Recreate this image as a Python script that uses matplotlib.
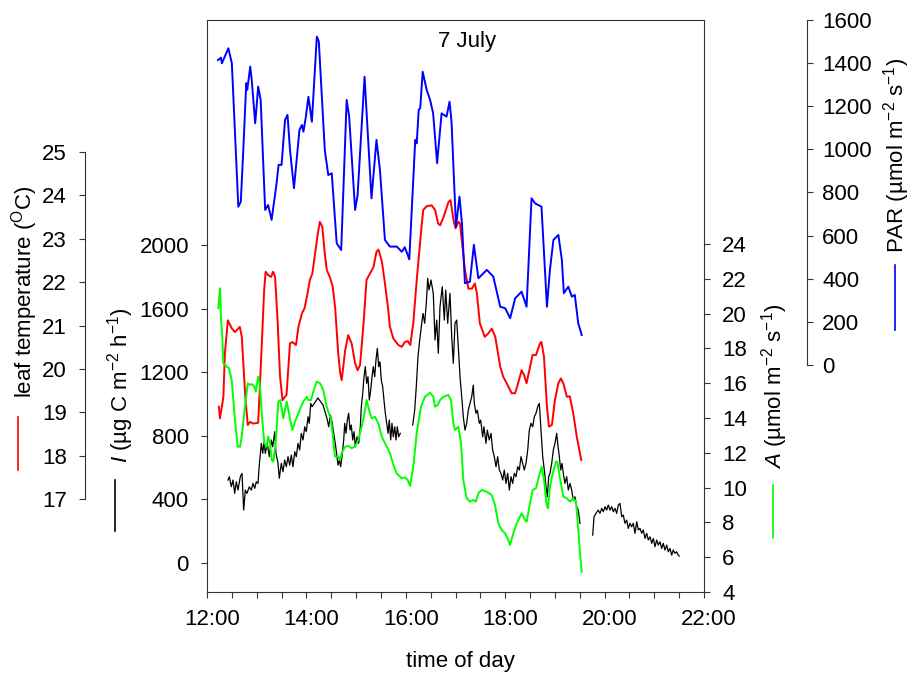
import numpy as np
import matplotlib
matplotlib.use('Agg')
import matplotlib.pyplot as plt
from matplotlib.ticker import MultipleLocator
from matplotlib.lines import Line2D
from matplotlib.transforms import ScaledTranslation

plt.rcParams['font.family'] = 'Liberation Sans'
plt.rcParams['mathtext.fontset'] = 'custom'
plt.rcParams['mathtext.rm'] = 'Liberation Sans'
plt.rcParams['mathtext.it'] = 'Liberation Sans:italic'
plt.rcParams['font.size'] = 16

# PAR (umol m-2 s-1) vs time of day (decimal hours)
par_t = [12.22, 12.28, 12.30, 12.43, 12.50, 12.63, 12.68, 12.73, 12.79, 12.81,
         12.87, 12.90, 12.97, 13.03, 13.08, 13.17, 13.23, 13.30, 13.40, 13.44,
         13.50, 13.57, 13.62, 13.67, 13.75, 13.86, 13.91, 13.94, 13.99, 14.04,
         14.11, 14.21, 14.25, 14.37, 14.44, 14.51, 14.61, 14.70, 14.81, 14.86,
         14.98, 15.03, 15.17, 15.31, 15.41, 15.48, 15.58, 15.68, 15.82, 15.92,
         15.98, 16.07, 16.19, 16.22, 16.26, 16.29, 16.34, 16.42, 16.49, 16.55,
         16.63, 16.72, 16.82, 16.88, 16.92, 17.01, 17.08, 17.13, 17.19, 17.29,
         17.37, 17.46, 17.63, 17.76, 17.90, 18.00, 18.10, 18.20, 18.33, 18.43,
         18.53, 18.60, 18.73, 18.84, 18.90, 18.97, 19.07, 19.14, 19.18, 19.27,
         19.34, 19.40, 19.47, 19.54]
par = [1414, 1425, 1399, 1469, 1399, 734, 757, 997, 1307, 1276,
       1384, 1322, 1121, 1291, 1229, 719, 742, 673, 843, 928,
       928, 1136, 1160, 997, 820, 1090, 1113, 1082, 1152, 1244,
       1128, 1523, 1500, 997, 881, 889, 564, 533, 1229, 1152,
       719, 788, 1337, 773, 1044, 904, 580, 549, 549, 525,
       546, 490, 1044, 1028, 1183, 1191, 1360, 1276, 1229, 1167,
       936, 1167, 1152, 1221, 1128, 641, 781, 657, 379, 386,
       557, 402, 441, 410, 270, 263, 217, 309, 340, 270,
       773, 750, 734, 270, 441, 580, 603, 487, 333, 363,
       317, 325, 193, 139]

# leaf temperature (degC)
temp_t = [12.24, 12.26, 12.30, 12.33, 12.36, 12.42, 12.50, 12.56, 12.63, 12.66,
          12.70, 12.77, 12.82, 12.87, 12.93, 13.03, 13.10, 13.15, 13.18, 13.23,
          13.29, 13.33, 13.37, 13.42, 13.47, 13.52, 13.57, 13.60, 13.67, 13.72,
          13.79, 13.84, 13.91, 13.96, 14.01, 14.07, 14.12, 14.17, 14.23, 14.27,
          14.32, 14.37, 14.41, 14.48, 14.53, 14.58, 14.64, 14.68, 14.71, 14.78,
          14.84, 14.91, 14.98, 15.03, 15.08, 15.15, 15.21, 15.28, 15.35, 15.41,
          15.45, 15.52, 15.58, 15.64, 15.68, 15.75, 15.85, 15.92, 15.98, 16.04,
          16.09, 16.15, 16.22, 16.31, 16.35, 16.42, 16.52, 16.59, 16.65, 16.69,
          16.76, 16.86, 16.90, 16.96, 17.00, 17.06, 17.09, 17.19, 17.26, 17.33,
          17.39, 17.43, 17.49, 17.59, 17.66, 17.73, 17.80, 17.90, 17.96, 18.03,
          18.13, 18.20, 18.26, 18.33, 18.38, 18.43, 18.50, 18.55, 18.62, 18.70,
          18.73, 18.78, 18.84, 18.88, 18.94, 19.00, 19.07, 19.12, 19.17, 19.24,
          19.30, 19.37, 19.44, 19.53]
temp = [19.13, 18.86, 19.13, 19.36, 20.36, 21.12, 20.93, 20.85, 20.93, 20.97,
        20.74, 19.36, 18.71, 18.78, 18.74, 18.76, 20.51, 21.82, 22.24, 22.16,
        22.12, 22.24, 22.12, 21.12, 19.82, 19.28, 19.36, 19.40, 20.59, 20.62,
        20.55, 20.97, 21.28, 21.39, 21.66, 22.05, 22.20, 22.62, 23.12, 23.39,
        23.27, 22.66, 22.28, 22.09, 21.89, 21.39, 20.36, 19.90, 19.74, 20.43,
        20.78, 20.59, 20.13, 19.97, 20.09, 21.05, 22.05, 22.20, 22.35, 22.70,
        22.75, 22.47, 21.97, 21.43, 20.97, 20.70, 20.55, 20.51, 20.62, 20.64,
        20.55, 21.05, 22.05, 23.20, 23.66, 23.75, 23.77, 23.66, 23.35, 23.31,
        23.50, 23.85, 23.89, 23.43, 23.24, 23.39, 23.35, 22.28, 21.85, 21.85,
        21.97, 21.74, 21.05, 20.74, 20.82, 20.93, 20.74, 20.05, 19.82, 19.67,
        19.44, 19.44, 19.67, 19.97, 19.86, 19.67, 20.05, 20.32, 20.32, 20.59,
        20.62, 20.28, 19.13, 18.67, 18.71, 19.28, 19.67, 19.78, 19.67, 19.36,
        19.37, 18.97, 18.44, 17.90]

# net assimilation A (umol m-2 s-1)
a_t = [12.227, 12.262, 12.282, 12.308, 12.328, 12.362, 12.396, 12.443, 12.497, 12.563,
       12.618, 12.664, 12.698, 12.750, 12.819, 12.865, 12.899, 12.952, 12.980, 13.032,
       13.066, 13.101, 13.153, 13.201, 13.233, 13.268, 13.302, 13.334, 13.382, 13.435,
       13.475, 13.535, 13.604, 13.650, 13.716, 13.771, 13.837, 13.891, 13.938, 14.006,
       14.038, 14.093, 14.139, 14.207, 14.274, 14.340, 14.408, 14.495, 14.541, 14.575,
       14.642, 14.676, 14.710, 14.777, 14.843, 14.911, 14.978, 15.044, 15.145, 15.213,
       15.260, 15.314, 15.380, 15.447, 15.515, 15.616, 15.682, 15.749, 15.817, 15.918,
       15.984, 16.038, 16.085, 16.151, 16.219, 16.306, 16.386, 16.487, 16.553, 16.588,
       16.642, 16.688, 16.755, 16.855, 16.909, 16.956, 16.990, 17.024, 17.056, 17.111,
       17.157, 17.225, 17.292, 17.358, 17.412, 17.459, 17.527, 17.628, 17.728, 17.795,
       17.861, 17.930, 17.996, 18.062, 18.097, 18.163, 18.231, 18.332, 18.398, 18.433,
       18.499, 18.553, 18.620, 18.686, 18.734, 18.781, 18.835, 18.861, 18.901, 18.956,
       19.022, 19.048, 19.103, 19.169, 19.237, 19.304, 19.370, 19.425, 19.471, 19.505,
       19.539]
a_val = [20.30, 21.45, 19.63, 18.67, 17.14, 17.05, 16.95, 16.86, 16.18, 13.89,
         12.35, 12.35, 12.93, 14.27, 15.99, 15.90, 15.95, 15.80, 15.51, 16.37,
         15.80, 14.27, 12.55, 12.35, 12.93, 12.55, 11.59, 11.49, 12.55, 14.94,
         15.03, 13.98, 14.94, 14.27, 13.31, 13.79, 14.27, 14.65, 14.94, 15.22,
         15.03, 15.03, 15.51, 16.09, 15.99, 15.61, 14.65, 13.89, 12.74, 11.78,
         11.78, 11.59, 11.97, 12.35, 12.39, 12.26, 12.35, 12.74, 13.89, 15.03,
         14.46, 13.98, 14.07, 13.70, 12.93, 12.35, 11.97, 11.30, 10.82, 10.53,
         10.59, 10.44, 10.09, 11.20, 13.12, 14.65, 15.22, 15.45, 15.22, 14.65,
         14.75, 15.03, 15.22, 15.32, 15.03, 13.70, 13.31, 13.41, 13.50, 12.55,
         10.44, 9.39, 9.19, 9.29, 9.19, 9.67, 9.86, 9.76, 9.57, 9.00,
         7.95, 7.56, 7.37, 6.99, 6.70, 7.37, 7.95, 8.52, 8.14, 8.04,
         9.10, 9.86, 9.96, 10.72, 11.20, 10.44, 9.00, 8.81, 10.05, 10.82,
         11.49, 11.49, 10.53, 9.48, 9.39, 9.19, 9.39, 9.19, 7.56, 6.22,
         5.17]

# isoprene emission I (ug C m-2 h-1), three logging periods
i1_t = [12.423, 12.449, 12.489, 12.523, 12.557, 12.590, 12.624, 12.670, 12.704, 12.738,
        12.771, 12.805, 12.851, 12.891, 12.926, 12.960, 12.992, 13.026, 13.052, 13.093,
        13.121, 13.147, 13.173, 13.213, 13.254, 13.294, 13.322, 13.362, 13.388, 13.429,
        13.455, 13.495, 13.529, 13.563, 13.596, 13.630, 13.664, 13.696, 13.730, 13.765,
        13.797, 13.831, 13.865, 13.897, 13.932, 13.966, 13.998, 14.032, 14.058, 14.087,
        14.113, 14.233, 14.334, 14.414, 14.449, 14.481, 14.515, 14.549, 14.581, 14.616,
        14.636, 14.662, 14.690, 14.716, 14.751, 14.771, 14.797, 14.823, 14.851, 14.877,
        14.903, 14.932, 14.958, 14.984, 15.018, 15.052, 15.085, 15.105, 15.133, 15.159,
        15.185, 15.213, 15.239, 15.266, 15.294, 15.320, 15.346, 15.374, 15.400, 15.427,
        15.455, 15.481, 15.507, 15.535, 15.561, 15.588, 15.616, 15.642, 15.668, 15.696,
        15.722, 15.748, 15.777, 15.803, 15.829, 15.857, 15.889]
i1 = [522, 543, 480, 522, 438, 511, 459, 543, 564, 333,
      459, 438, 480, 459, 501, 470, 511, 501, 616, 753,
      690, 763, 690, 753, 669, 774, 731, 826, 690, 627,
      533, 627, 574, 648, 606, 669, 616, 679, 606, 700,
      669, 753, 711, 816, 774, 857, 826, 920, 879, 1004,
      983, 1038, 994, 910, 857, 931, 889, 816, 753, 669,
      616, 648, 606, 669, 774, 879, 816, 899, 942, 836,
      868, 774, 826, 731, 794, 753, 857, 983, 1067, 1172,
      1235, 1130, 1172, 1025, 1088, 1172, 1235, 1172, 1277, 1350,
      1235, 1266, 1151, 1109, 1025, 942, 879, 816, 899, 774,
      879, 794, 857, 774, 857, 794, 816]

i2_t = [16.139, 16.179, 16.211, 16.245, 16.280, 16.312, 16.346, 16.380, 16.412, 16.441,
        16.467, 16.507, 16.553, 16.588, 16.622, 16.654, 16.688, 16.734, 16.775, 16.803,
        16.843, 16.889, 16.924, 16.956, 16.990, 17.024, 17.056, 17.091, 17.125, 17.157,
        17.191, 17.225, 17.258, 17.292, 17.326, 17.358, 17.378, 17.412, 17.439, 17.479,
        17.507, 17.547, 17.573, 17.614, 17.640, 17.680, 17.714, 17.748, 17.781, 17.815,
        17.849, 17.881, 17.915, 17.950, 17.982, 18.016, 18.050, 18.083, 18.117, 18.151,
        18.183, 18.217, 18.252, 18.284, 18.318, 18.352, 18.384, 18.419, 18.453, 18.485,
        18.519, 18.553, 18.586, 18.620, 18.654, 18.686, 18.700, 18.720, 18.755, 18.787,
        18.821, 18.847, 18.875, 18.901, 18.936, 18.968, 19.002, 19.036, 19.056, 19.089,
        19.117, 19.143, 19.169, 19.203, 19.237, 19.270, 19.304, 19.338, 19.370, 19.404,
        19.439, 19.471, 19.505]
i2 = [868, 962, 1109, 1297, 1403, 1486, 1570, 1508, 1633, 1791,
      1717, 1780, 1696, 1403, 1528, 1319, 1612, 1738, 1528, 1717,
      1508, 1696, 1423, 1256, 1508, 1528, 1360, 1172, 1046, 920,
      836, 879, 962, 1004, 1046, 1119, 1004, 942, 962, 879,
      899, 794, 857, 753, 836, 774, 816, 711, 669, 606,
      669, 585, 564, 522, 585, 501, 564, 459, 543, 501,
      564, 543, 606, 585, 669, 627, 585, 627, 711, 836,
      879, 857, 920, 942, 983, 1004, 942, 836, 669, 585,
      480, 417, 543, 564, 627, 711, 753, 816, 753, 669,
      585, 627, 564, 501, 543, 459, 501, 459, 396, 417,
      354, 333, 250]

i3_t = [19.761, 19.787, 19.827, 19.873, 19.907, 19.942, 19.974, 20.008, 20.042, 20.074,
        20.109, 20.143, 20.175, 20.209, 20.243, 20.276, 20.310, 20.344, 20.376, 20.410,
        20.445, 20.477, 20.511, 20.545, 20.577, 20.612, 20.646, 20.678, 20.712, 20.746,
        20.779, 20.813, 20.847, 20.879, 20.913, 20.948, 20.980, 21.014, 21.048, 21.080,
        21.115, 21.149, 21.181, 21.215, 21.249, 21.282, 21.316, 21.350, 21.382, 21.416,
        21.449, 21.481, 21.501]
i3 = [176, 291, 313, 333, 313, 344, 323, 354, 333, 365,
      333, 354, 323, 344, 313, 365, 375, 291, 302, 250,
      270, 218, 250, 228, 250, 187, 260, 208, 218, 187,
      208, 155, 187, 145, 165, 124, 155, 103, 145, 113,
      134, 92, 124, 82, 113, 71, 92, 50, 82, 61,
      71, 50, 44]

x_ticks = [12, 14, 16, 18, 20, 22]
x_ticklabels = ['12:00', '14:00', '16:00', '18:00', '20:00', '22:00']
i_ticks = [0, 400, 800, 1200, 1600, 2000]
temp_ticks = [17, 18, 19, 20, 21, 22, 23, 24, 25]
a_ticks = [4, 6, 8, 10, 12, 14, 16, 18, 20, 22, 24]
par_ticks = [0, 200, 400, 600, 800, 1000, 1200, 1400, 1600]

W, H = 915, 674
fig = plt.figure(figsize=(W / 100, H / 100), dpi=100)


def fx(px):
    return px / W


def fy(py):
    return 1 - py / H


axc = '#333333'
tick_kw = dict(direction='out', length=4, width=0.8, color=axc, labelsize=16)

ax = fig.add_axes([fx(207), fy(592), (704 - 207) / W, (592 - 20) / H])
ax.set_xlim(12, 22)
ax.set_ylim(-182, 3415)
for s in ax.spines.values():
    s.set_color(axc)
    s.set_linewidth(0.8)
ax.set_xticks(x_ticks)
ax.set_xticklabels(x_ticklabels)
ax.xaxis.set_minor_locator(MultipleLocator(0.5))
ax.set_yticks(i_ticks)
ax.tick_params(axis='x', which='both', pad=8, **tick_kw)
ax.tick_params(axis='y', pad=9, **tick_kw)
# time labels sit a little right of their ticks
shift = ScaledTranslation(5 / 100, 0, fig.dpi_scale_trans)
for lab in ax.get_xticklabels():
    lab.set_transform(lab.get_transform() + shift)
ax.plot(i1_t, i1, color='black', lw=0.9)
ax.plot(i2_t, i2, color='black', lw=0.9)
ax.plot(i3_t, i3, color='black', lw=0.9)

# leaf temperature axis, detached on the left
tax = ax.twinx()
tax.set_ylim(14.86, 28.04)
for s in tax.spines.values():
    s.set_visible(False)
tax.spines['left'].set_visible(True)
tax.spines['left'].set_position(('axes', (85 - 207) / 497))
tax.spines['left'].set_bounds(17, 25)
tax.spines['left'].set_color(axc)
tax.spines['left'].set_linewidth(0.8)
tax.yaxis.tick_left()
tax.set_yticks(temp_ticks)
tax.tick_params(axis='y', pad=9, **tick_kw)
tax.plot(temp_t, temp, color='#ff0000', lw=1.4)

# assimilation on the right edge of the box
aax = ax.twinx()
aax.set_ylim(4, 36.87)
for s in aax.spines.values():
    s.set_visible(False)
aax.set_yticks(a_ticks)
aax.tick_params(axis='y', pad=9, **tick_kw)
aax.plot(a_t, a_val, color='#00ff00', lw=1.4)

# PAR axis, offset to the right
pax = ax.twinx()
pax.set_ylim(-1053, 1600)
for s in pax.spines.values():
    s.set_visible(False)
pax.spines['right'].set_visible(True)
pax.spines['right'].set_position(('axes', (807 - 207) / 497))
pax.spines['right'].set_bounds(0, 1600)
pax.spines['right'].set_color(axc)
pax.spines['right'].set_linewidth(0.8)
pax.set_yticks(par_ticks)
pax.tick_params(axis='y', pad=7, **tick_kw)
pax.plot(par_t, par, color='#0000ff', lw=1.4)

# axis titles with a short line key under each
fig.text(fx(467), fy(42), '7 July', ha='center', va='center', fontsize=16)
fig.text(fx(460), fy(661), 'time of day', ha='center', va='center', fontsize=16)
fig.text(fx(25), fy(292), r'leaf temperature ($^{\mathrm{O}}$C)', rotation=90,
         ha='center', va='center', fontsize=16)
fig.text(fx(121), fy(385), r'$I$ (µg C m$^{-2}$ h$^{-1}$)', rotation=90,
         ha='center', va='center', fontsize=16)
fig.text(fx(775), fy(386), r'$A$ (µmol m$^{-2}$ s$^{-1}$)', rotation=90,
         ha='center', va='center', fontsize=16)
fig.text(fx(897), fy(155), r'PAR (µmol m$^{-2}$ s$^{-1}$)', rotation=90,
         ha='center', va='center', fontsize=16)

keys = [(18, 417, 470, '#ff0000'), (115, 480, 531, 'black'),
        (773, 485, 538, '#00ff00'), (895, 265, 330, '#0000ff')]
for kx, ky0, ky1, kc in keys:
    fig.add_artist(Line2D([fx(kx), fx(kx)], [fy(ky0), fy(ky1)], color=kc, lw=1.2))

fig.savefig('out.png', dpi=100)
